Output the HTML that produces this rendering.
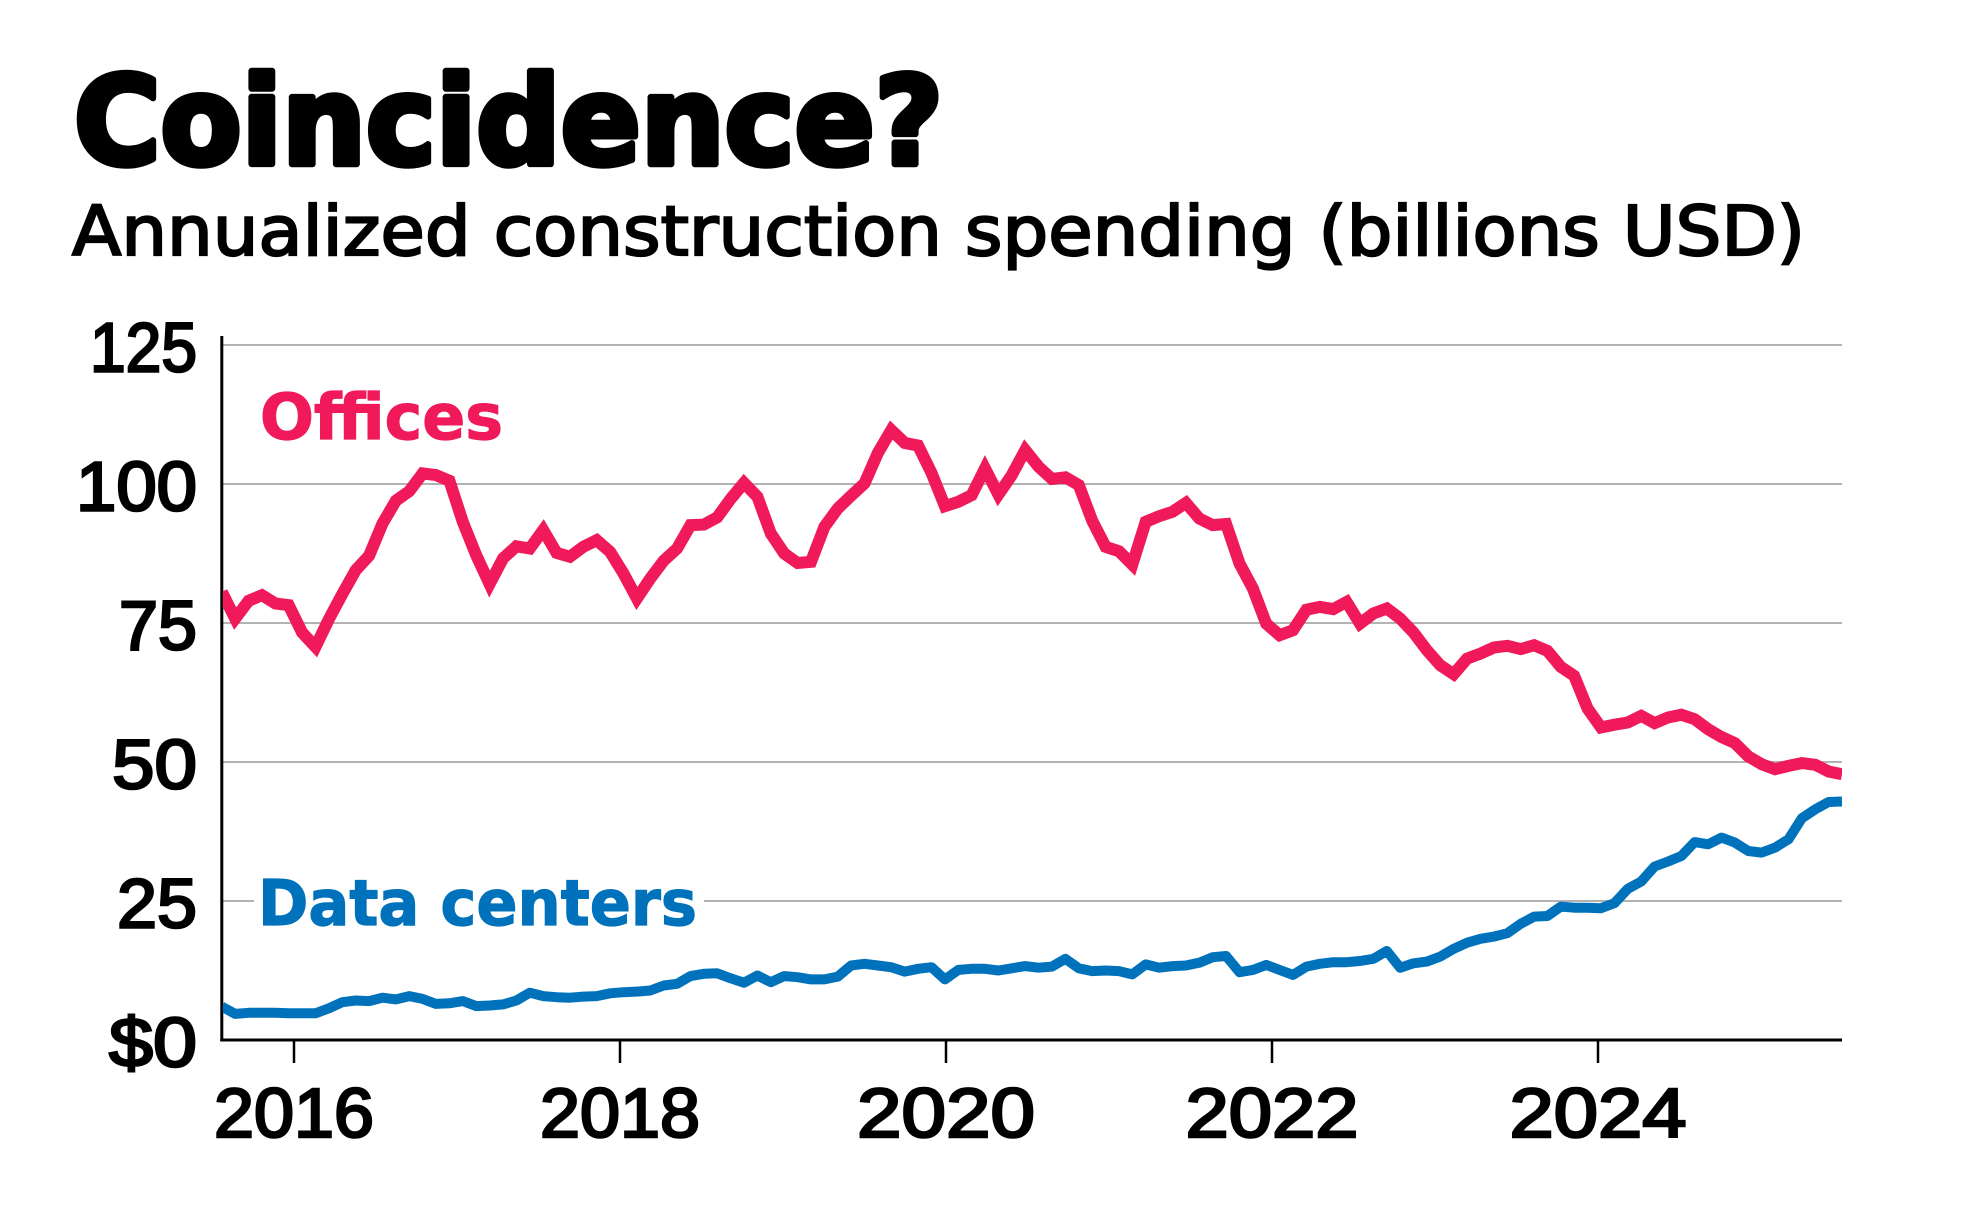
<!DOCTYPE html>
<html lang="en">
<head>
<meta charset="utf-8">
<title>Coincidence?</title>
<style>
html,body{margin:0;padding:0;background:#fff;}
svg{display:block;}
</style>
</head>
<body>
<svg id="chart" xmlns="http://www.w3.org/2000/svg" width="1962" height="1229" viewBox="0 0 1962 1229">
  <rect width="1962" height="1229" fill="#fff"/>
  <text x="74" y="164" font-family="'DejaVu Sans','Liberation Sans',sans-serif" font-weight="700" font-size="122" fill="#000" stroke="#000" stroke-width="6.5" stroke-linejoin="round" textLength="869" lengthAdjust="spacingAndGlyphs">Coincidence?</text>
  <text x="72" y="255" font-family="'DejaVu Sans','Liberation Sans',sans-serif" font-size="69" fill="#000" stroke="#000" stroke-width="2.2" textLength="1733" lengthAdjust="spacingAndGlyphs">Annualized construction spending (billions USD)</text>
  <g id="grid"></g>
  <rect x="254" y="870" width="450" height="70" fill="#fff"/>
  <text x="260" y="439" font-family="'DejaVu Sans','Liberation Sans',sans-serif" font-weight="700" font-size="63" fill="#F01A5A" stroke="#F01A5A" stroke-width="1.2" textLength="243" lengthAdjust="spacingAndGlyphs">Offices</text>
  <text x="258" y="925" font-family="'DejaVu Sans','Liberation Sans',sans-serif" font-weight="700" font-size="63" fill="#0072BC" stroke="#0072BC" stroke-width="1.2" textLength="439" lengthAdjust="spacingAndGlyphs">Data centers</text>
  <g id="axes"></g>
  <g id="series"></g>
  <g id="ticklabels"></g>
</svg>
<script>
const yTicks = [0, 25, 50, 75, 100, 125];
const yTickLabels = ["$0", "25", "50", "75", "100", "125"];
const xTickYears = [2016, 2018, 2020, 2022, 2024];
const startYear = 2015.557;
const yearsPerPoint = 0.08215;

const offices = [
  80.6, 75.8, 79.0, 80.0, 78.5, 78.2, 73.3, 70.7, 75.7, 80.2,
  84.5, 87.1, 92.9, 97.0, 98.7, 101.9, 101.6, 100.6, 93.2, 87.2,
  82.0, 86.6, 88.8, 88.4, 91.7, 87.6, 86.9, 88.7, 89.9, 87.8,
  83.9, 79.4, 83.0, 86.2, 88.4, 92.6, 92.7, 94.0, 97.3, 100.2,
  97.7, 91.1, 87.5, 85.8, 86.0, 92.3, 95.6, 97.9, 100.1, 105.6,
  109.7, 107.4, 106.9, 102.0, 96.0, 96.8, 98.0, 102.8, 98.1, 101.6,
  106.1, 103.1, 100.9, 101.2, 99.8, 93.4, 88.7, 87.9, 85.5, 93.2,
  94.2, 95.0, 96.6, 93.8, 92.6, 92.8, 85.7, 81.2, 74.9, 72.8,
  73.7, 77.4, 77.9, 77.5, 78.8, 74.9, 76.7, 77.6, 75.8, 73.3,
  70.1, 67.4, 65.8, 68.6, 69.5, 70.6, 70.9, 70.3, 71.0, 70.0,
  67.1, 65.5, 59.6, 56.2, 56.7, 57.1, 58.3, 57.0, 58.0, 58.5,
  57.7, 55.9, 54.5, 53.4, 51.0, 49.6, 48.7, 49.3, 49.8, 49.5,
  48.3, 47.8
];

const dataCenters = [
  6.0, 4.7, 4.9, 4.9, 4.9, 4.8, 4.8, 4.8, 5.7, 6.8,
  7.1, 7.0, 7.6, 7.3, 7.9, 7.4, 6.5, 6.6, 7.0, 6.1,
  6.2, 6.4, 7.1, 8.5, 7.9, 7.7, 7.6, 7.8, 7.9, 8.4,
  8.6, 8.7, 8.9, 9.8, 10.1, 11.5, 11.9, 12.0, 11.1, 10.3,
  11.6, 10.4, 11.5, 11.3, 10.9, 10.9, 11.4, 13.4, 13.7, 13.4,
  13.1, 12.3, 12.8, 13.1, 10.9, 12.6, 12.8, 12.8, 12.5, 12.9,
  13.3, 13.0, 13.2, 14.6, 12.9, 12.4, 12.5, 12.4, 11.8, 13.6,
  13.0, 13.3, 13.4, 13.9, 14.9, 15.1, 12.2, 12.6, 13.5, 12.6,
  11.7, 13.2, 13.7, 14.0, 14.0, 14.2, 14.6, 16.0, 13.0, 13.8,
  14.1, 15.0, 16.4, 17.5, 18.2, 18.6, 19.2, 20.9, 22.2, 22.3,
  24.0, 23.8, 23.8, 23.7, 24.6, 27.2, 28.5, 31.2, 32.1, 33.1,
  35.6, 35.2, 36.4, 35.5, 34.0, 33.7, 34.6, 36.1, 39.9, 41.5,
  42.8, 42.9
];

const NS = "http://www.w3.org/2000/svg";
const yBase = 1040, yUnit = 5.56;
const xLeft = 221.8, xRight = 1842;
const yScale = v => yBase - v * yUnit;
const xScale = year => 294 + 163 * (year - 2016);
const pointX = i => xScale(startYear + i * yearsPerPoint);
const glyphWidth = {"1":27,"2":42,"5":38,"0":47,"7":40,"6":44,"8":44,"4":46,"$":41};
const labelWidth = s => s.split("").reduce((a, c) => a + glyphWidth[c], 0);

function make(tag, attrs, parent) {
  const el = document.createElementNS(NS, tag);
  for (const k in attrs) el.setAttribute(k, attrs[k]);
  parent.appendChild(el);
  return el;
}
const gridG = document.getElementById("grid");
const axesG = document.getElementById("axes");
const seriesG = document.getElementById("series");
const labelsG = document.getElementById("ticklabels");

yTicks.forEach((v, i) => {
  if (v > 0) {
    const gl = make("line", {x1: xLeft, x2: xRight, y1: yScale(v), y2: yScale(v), stroke: "#b3b3b3", "stroke-width": 2}, gridG);
    
    
  }
  const lab = make("text", {x: 197, y: yScale(v) + 26.5, "text-anchor": "end", "font-family": "'Liberation Sans',sans-serif", "font-size": 70, fill: "#000", stroke: "#000", "stroke-width": 2.6, textLength: labelWidth(yTickLabels[i]), lengthAdjust: "spacingAndGlyphs"}, labelsG);
  lab.textContent = yTickLabels[i];
  
  
});

const yAxis = make("line", {x1: xLeft, x2: xLeft, y1: 336, y2: yBase + 1.5, stroke: "#000", "stroke-width": 3}, axesG);


const xAxis = make("line", {x1: xLeft - 1.5, x2: xRight, y1: yBase, y2: yBase, stroke: "#000", "stroke-width": 3}, axesG);



xTickYears.forEach(year => {
  const x = xScale(year);
  const tick = make("line", {x1: x, x2: x, y1: yBase, y2: 1063, stroke: "#000", "stroke-width": 2.5}, axesG);
  
  
  const s = String(year);
  const lab = make("text", {x: x, y: 1137, "text-anchor": "middle", "font-family": "'Liberation Sans',sans-serif", "font-size": 70, fill: "#000", stroke: "#000", "stroke-width": 2.6, textLength: labelWidth(s), lengthAdjust: "spacingAndGlyphs"}, labelsG);
  lab.textContent = s;
  
  
});

const clip = make("clipPath", {id: "plot-clip"}, seriesG);
make("rect", {x: xLeft + 1, y: 300, width: xRight - xLeft - 1, height: 760}, clip);

function linePath(values) {
  return values.map((v, i) => (i ? "L" : "M") + pointX(i).toFixed(1) + " " + yScale(v).toFixed(1)).join("");
}
const officeLine = make("path", {d: linePath(offices), fill: "none", stroke: "#F01A5A", "stroke-width": 12, "stroke-linejoin": "miter", "stroke-miterlimit": 4, "clip-path": "url(#plot-clip)"}, seriesG);


const dataLine = make("path", {d: linePath(dataCenters), fill: "none", stroke: "#0072BC", "stroke-width": 10, "stroke-linejoin": "round", "clip-path": "url(#plot-clip)"}, seriesG);


</script>
</body>
</html>
